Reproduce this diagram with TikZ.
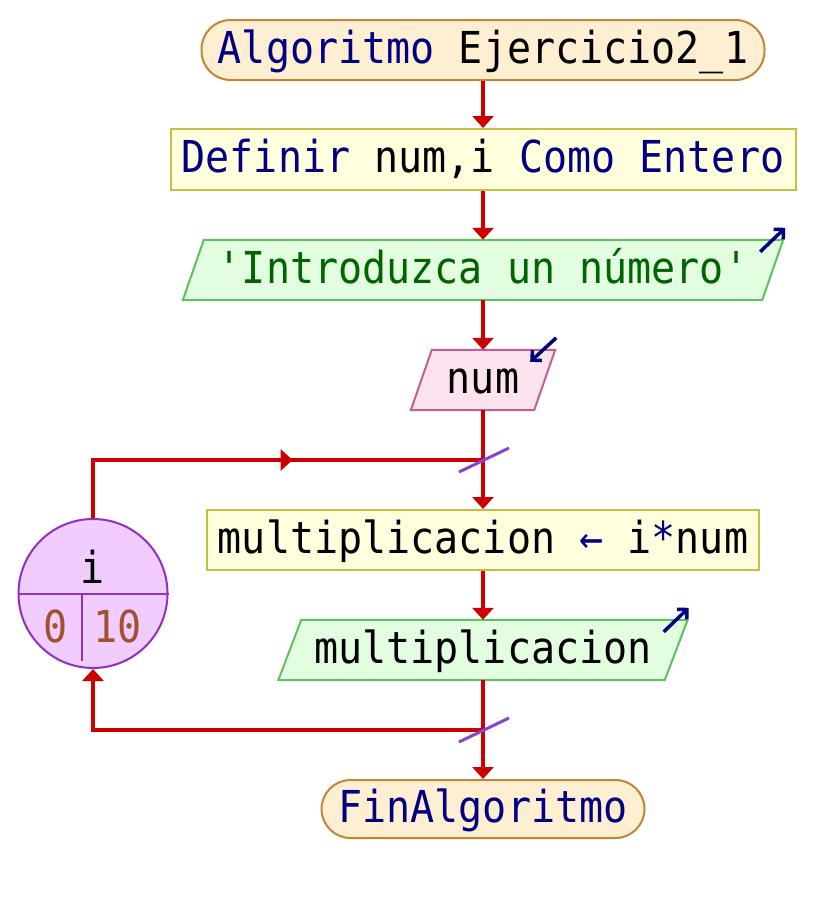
\documentclass[tikz,border=0pt]{standalone}
\usepackage{fontspec}
\setmonofont{DejaVu Sans Mono}[FakeStretch=0.91]
\usetikzlibrary{arrows.meta,backgrounds,decorations.markings}

\definecolor{kw}{HTML}{000080}
\definecolor{strc}{HTML}{006400}
\definecolor{numc}{HTML}{A0522D}
\definecolor{flowc}{HTML}{CC0000}
\definecolor{termf}{HTML}{FFEFD2}
\definecolor{termd}{HTML}{C08536}
\definecolor{procf}{HTML}{FFFFDD}
\definecolor{procd}{HTML}{C4BE44}
\definecolor{outf}{HTML}{E2FDE0}
\definecolor{outd}{HTML}{60C060}
\definecolor{inf}{HTML}{FDE3F0}
\definecolor{ind}{HTML}{C06090}
\definecolor{loopf}{HTML}{F0CCFF}
\definecolor{loopd}{HTML}{9030C0}
\definecolor{slashc}{HTML}{8844CC}

% draws the slanted input/output box behind a named node
\newcommand\iopar[3]{%
  \begin{pgfonlayer}{background}
    \draw[#3] ([xshift=#2]#1.north west) -- ([xshift=#2]#1.north east)
      -- ([xshift=-#2]#1.south east) -- ([xshift=-#2]#1.south west) -- cycle;
  \end{pgfonlayer}}

\tikzset{
  txt/.style={font=\ttfamily\fontsize{44}{48}\selectfont, inner sep=0pt,
    text height=26pt, text depth=0pt},
  term/.style={txt, draw=termd, fill=termf, line width=2pt, rounded corners=29pt},
  proc/.style={txt, draw=procd, fill=procf, line width=2pt},
  iobox/.style={txt, minimum height=60pt},
  outshape/.style={draw=outd, fill=outf, line width=2pt},
  inshape/.style={draw=ind, fill=inf, line width=2pt},
  flow/.style={draw=flowc, line width=3.5pt, -{Triangle[length=12pt,width=21pt]}},
  line/.style={draw=flowc, line width=3.5pt},
  slash/.style={draw=slashc, line width=3pt},
  icon/.style={draw=kw, line width=3.5pt, -{Straight Barb[length=7pt,width=14pt,line width=3.5pt]}},
  loopshape/.style={circle, draw=loopd, fill=loopf, line width=2pt, minimum size=149pt, inner sep=0pt},
  loopline/.style={draw=loopd, line width=2pt},
  midarrow/.style={postaction={decorate}, decoration={markings,
    mark=at position #1 with {\arrow{Triangle[length=12pt,width=21pt]}}}}
}

\begin{document}
\begin{tikzpicture}[x=1pt,y=-1pt]
\useasboundingbox (0,0) rectangle (816,910);

% main column
\node[term, minimum width=563pt, minimum height=60pt] (start) at (483,50)
  {\textcolor{kw}{Algoritmo} Ejercicio2\_1};
\node[proc, minimum width=625pt, minimum height=61pt] (def) at (483,159.5)
  {\textcolor{kw}{Definir} num,i \textcolor{kw}{Como Entero}};
\node[iobox, minimum width=579pt] (out1) at (483,270)
  {\textcolor{strc}{'Introduzca un número'}};
\iopar{out1}{10.5}{outshape}
\node[iobox, minimum width=123pt] (num) at (483,380) {num};
\iopar{num}{10.5}{inshape}
\node[proc, minimum width=552pt, minimum height=60pt] (assign) at (483,540)
  {multiplicacion \textcolor{kw}{←} i\textcolor{kw}{*}num};
\node[iobox, minimum width=386pt] (out2) at (483,650) {multiplicacion};
\iopar{out2}{11.5}{outshape}
\node[term, minimum width=323pt, minimum height=58pt] (end) at (483,809)
  {\textcolor{kw}{FinAlgoritmo}};

% input / output markers
\coordinate (c1) at ([xshift=10.5]out1.north east);
\coordinate (c2) at ([xshift=10.5]num.north east);
\coordinate (c3) at ([xshift=11.5]out2.north east);
\draw[icon] ([shift={(-23,12)}]c1) -- ([shift={(2,-12)}]c1);
\draw[icon] ([shift={(1,-12)}]c2) -- ([shift={(-25,12)}]c2);
\draw[icon] ([shift={(-24,12)}]c3) -- ([shift={(1,-12)}]c3);

% loop counter
\node[loopshape] (loopc) at (93,593.5) {};
\draw[loopline] (loopc.west) -- (loopc.east);
\draw[loopline] ([xshift=-11pt]loopc.center) -- ++(0,67);
\node[txt, anchor=base, text height=, text depth=] (ivar) at (93,583) {i};
\node[txt, anchor=base, text height=, text depth=, text=numc] (ifrom) at (56,642) {0};
\node[txt, anchor=base, text height=, text depth=, text=numc] (ito) at (118,642) {10};

% joints of the loop
\coordinate (j1) at (483,460);
\coordinate (j2) at (483,730);

% connectors
\draw[flow] (start) -- (def);
\draw[flow] (def) -- (out1);
\draw[flow] (out1) -- (num);
\draw[flow] (num) -- (assign);
\draw[flow] (assign) -- (out2);
\draw[flow] (out2) -- (end);
\draw[line, midarrow=0.575] (loopc.north) |- (j1);
\draw[flow] (j2) -| (loopc.south);

\draw[slash] ([shift={(-24,12)}]j1) -- ([shift={(26,-12)}]j1);
\draw[slash] ([shift={(-24,12)}]j2) -- ([shift={(26,-12)}]j2);
\end{tikzpicture}
\end{document}
